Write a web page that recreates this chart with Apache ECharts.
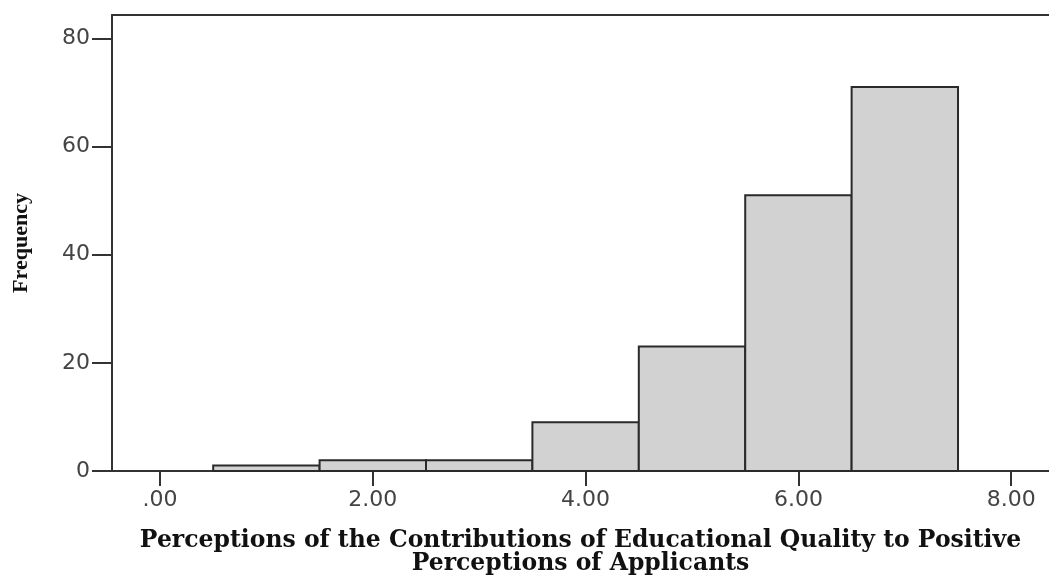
<!DOCTYPE html>
<html>
<head>
<meta charset="utf-8">
<script src="https://cdn.jsdelivr.net/npm/echarts@6/dist/echarts.min.js"></script>
<style>html,body{margin:0;padding:0;background:#fff;}#chart{width:1049px;height:578px;}</style>
</head>
<body>
<div id="chart"></div>
<script>
// Histogram bins (lower edge, upper edge) and frequencies
var binStart = [0.5, 1.5, 2.5, 3.5, 4.5, 5.5, 6.5];
var binEnd   = [1.5, 2.5, 3.5, 4.5, 5.5, 6.5, 7.5];
var frequency = [1, 2, 2, 9, 23, 51, 71];
var xTicks = [0, 2, 4, 6, 8];
var yTicks = [0, 20, 40, 60, 80];
var xTitle = 'Perceptions of the Contributions of Educational Quality to Positive\nPerceptions of Applicants';
var yTitle = 'Frequency';

var data = binStart.map(function (s, i) { return [s, binEnd[i], frequency[i]]; });

var chart = echarts.init(document.getElementById('chart'));
chart.setOption({
  animation: false,
  backgroundColor: '#fff',
  grid: { left: 112, top: 15, right: 0, bottom: 107, outerBoundsMode: 'none', containLabel: false },
  xAxis: [{
    type: 'value', min: -0.451, max: 8.355, position: 'bottom',
    splitLine: { show: false },
    axisLine: { show: true, onZero: false, lineStyle: { color: '#333', width: 2 } },
    axisTick: { show: true, customValues: xTicks, length: 15, lineStyle: { color: '#333', width: 2 } },
    axisLabel: {
      customValues: xTicks, margin: 18, color: '#444',
      fontFamily: 'DejaVu Sans', fontSize: 22,
      formatter: function (v) { return v === 0 ? '.00' : v.toFixed(2); }
    },
    name: xTitle, nameLocation: 'middle', nameGap: 58,
    nameTextStyle: { fontFamily: 'DejaVu Serif', fontWeight: 'bold', fontSize: 23.5, color: '#111', lineHeight: 23 }
  }, {
    type: 'value', min: -0.451, max: 8.355, position: 'top',
    splitLine: { show: false },
    axisLine: { show: true, onZero: false, lineStyle: { color: '#333', width: 2 } },
    axisTick: { show: false }, axisLabel: { show: false }
  }],
  yAxis: {
    type: 'value', min: 0, max: 84.3,
    splitLine: { show: false },
    axisLine: { show: true, onZero: false, lineStyle: { color: '#333', width: 2 } },
    axisTick: { show: true, customValues: yTicks, length: 20, lineStyle: { color: '#333', width: 2 } },
    axisLabel: { customValues: yTicks, margin: 22, color: '#444', fontFamily: 'DejaVu Sans', fontSize: 22 },
    name: yTitle, nameLocation: 'middle', nameGap: 80, nameRotate: 90,
    nameTextStyle: { fontFamily: 'Liberation Serif', fontWeight: 'bold', fontSize: 22, color: '#111' }
  },
  series: [{
    type: 'custom',
    xAxisIndex: 0,
    data: data,
    renderItem: function (params, api) {
      var p0 = api.coord([api.value(0), api.value(2)]);
      var p1 = api.coord([api.value(1), 0]);
      return {
        type: 'rect',
        shape: { x: p0[0], y: p0[1], width: p1[0] - p0[0], height: p1[1] - p0[1] },
        style: { fill: '#d2d2d2', stroke: '#2a2a2a', lineWidth: 2 }
      };
    },
    encode: { x: [0, 1], y: 2 }
  }]
});
</script>
</body>
</html>
